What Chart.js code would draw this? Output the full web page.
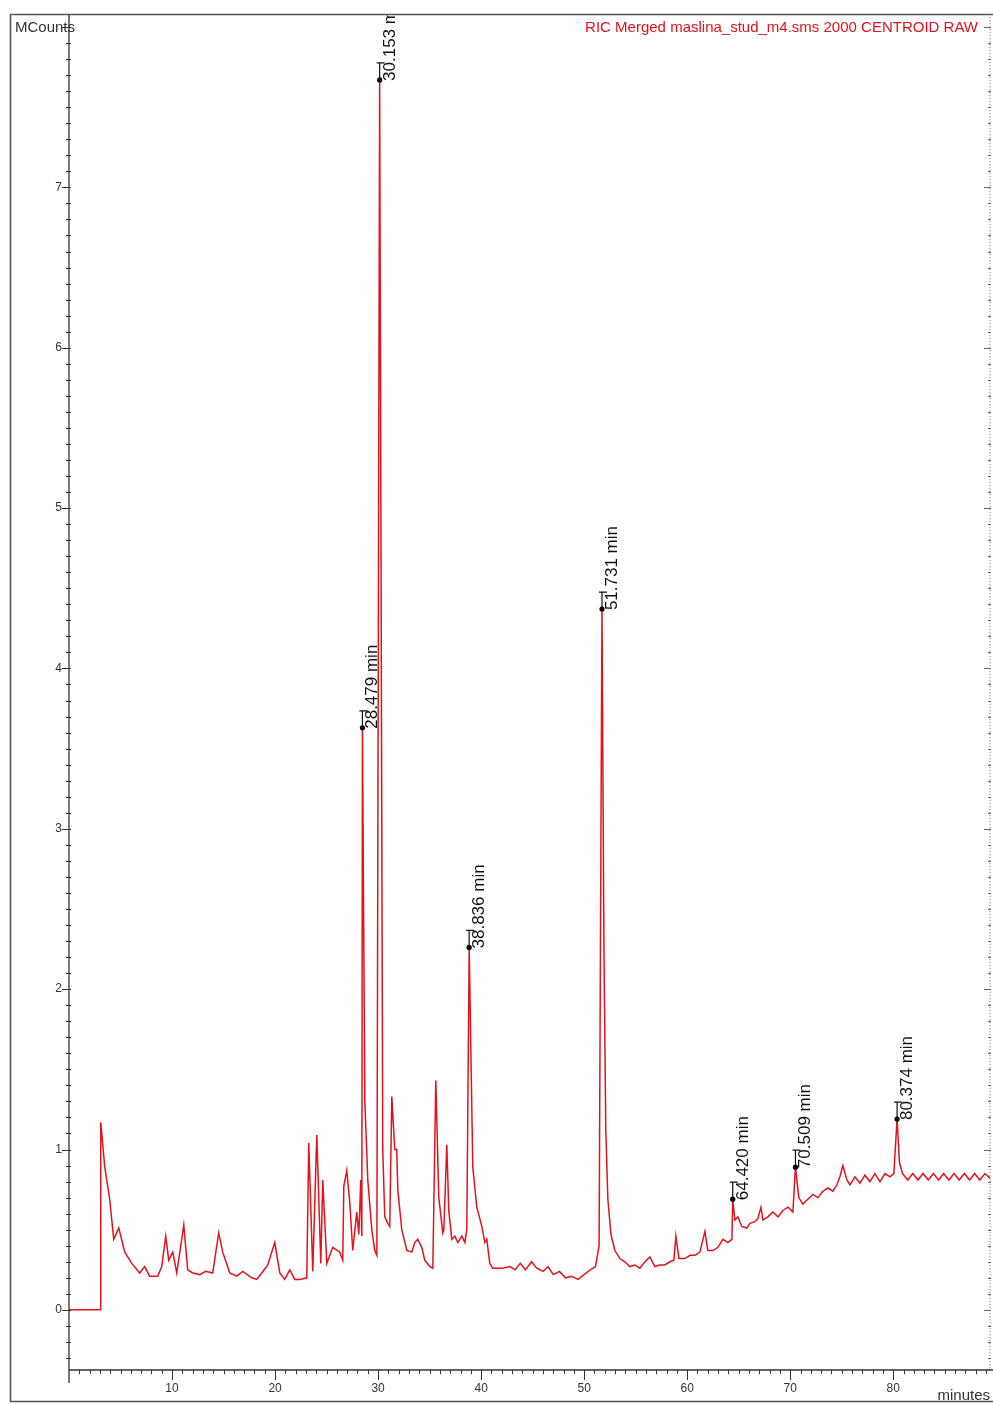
<!DOCTYPE html>
<html>
<head>
<meta charset="utf-8">
<script src="https://cdn.jsdelivr.net/npm/chart.js@4.4.1/dist/chart.umd.min.js"></script>
<style>
  html, body { margin: 0; padding: 0; background: #fff; }
  #wrap { width: 993px; height: 1405px; }
</style>
</head>
<body>
<div id="wrap"><canvas id="ric" width="993" height="1405"></canvas></div>
<script>
// retention time (minutes) and signal (MCounts)
const times = [
  0, 3.05, 3.08, 3.47, 3.95, 4.34, 4.83, 5.41, 6.09, 6.86,
  7.35, 7.83, 8.61, 9.0, 9.39, 9.68, 10.07, 10.46, 11.14, 11.52,
  12.01, 12.69, 13.27, 13.95, 14.53, 14.92, 15.6, 16.28, 16.86, 17.74,
  18.22, 18.71, 19.29, 19.97, 20.46, 20.94, 21.43, 21.91, 22.4, 23.08,
  23.27, 23.66, 24.05, 24.44, 24.63, 25.02, 25.6, 26.28, 26.57, 26.67,
  26.96, 27.25, 27.54, 27.93, 28.13, 28.32, 28.42, 28.48, 28.71, 29.0,
  29.39, 29.68, 29.88, 30.15, 30.45, 30.65, 30.94, 31.13, 31.33, 31.62,
  31.81, 31.91, 32.3, 32.79, 33.27, 33.56, 33.85, 34.24, 34.53, 35.02,
  35.31, 35.6, 35.89, 36.28, 36.38, 36.67, 36.86, 37.15, 37.45, 37.74,
  38.13, 38.42, 38.61, 38.84, 39.19, 39.58, 40.07, 40.36, 40.55, 40.84,
  41.13, 42.1, 42.79, 43.3, 43.8, 44.3, 44.9, 45.4, 46.0, 46.5,
  47.0, 47.6, 48.2, 48.8, 49.4, 50.0, 50.6, 51.1, 51.45, 51.73,
  51.92, 52.1, 52.3, 52.6, 52.98, 53.47, 53.95, 54.44, 54.92, 55.41,
  55.9, 56.38, 56.86, 57.35, 57.83, 58.32, 58.71, 58.9, 59.2, 59.78,
  60.27, 60.75, 61.23, 61.72, 62.0, 62.5, 62.98, 63.47, 63.95, 64.34,
  64.42, 64.63, 64.92, 65.3, 65.79, 66.09, 66.57, 66.86, 67.16, 67.35,
  67.83, 68.32, 68.81, 69.29, 69.78, 70.26, 70.51, 70.83, 71.22, 71.71,
  72.2, 72.68, 73.17, 73.66, 74.14, 74.53, 74.82, 75.11, 75.5, 75.8,
  76.28, 76.77, 77.25, 77.74, 78.22, 78.71, 79.2, 79.68, 80.06, 80.37,
  80.6, 80.9, 81.4, 81.9, 82.4, 82.9, 83.4, 83.9, 84.4, 84.9,
  85.4, 85.9, 86.4, 86.9, 87.4, 87.9, 88.4, 88.9, 89.4
];
const counts = [
  0, 0, 1.17, 0.89, 0.69, 0.44, 0.51, 0.36, 0.29, 0.23,
  0.27, 0.21, 0.21, 0.27, 0.46, 0.31, 0.36, 0.23, 0.53, 0.25,
  0.23, 0.22, 0.24, 0.23, 0.48, 0.36, 0.23, 0.21, 0.24, 0.2,
  0.19, 0.23, 0.28, 0.42, 0.23, 0.19, 0.25, 0.19, 0.19, 0.2,
  1.04, 0.24, 1.09, 0.29, 0.81, 0.29, 0.39, 0.36, 0.31, 0.77,
  0.87, 0.67, 0.37, 0.61, 0.47, 0.81, 0.46, 3.63, 1.31, 0.81,
  0.5, 0.37, 0.34, 7.67, 1.0, 0.58, 0.54, 0.52, 1.33, 1.0,
  1.0, 0.75, 0.5, 0.37, 0.36, 0.42, 0.44, 0.39, 0.31, 0.27,
  0.26, 1.43, 0.7, 0.48, 0.5, 1.03, 0.62, 0.44, 0.46, 0.42,
  0.46, 0.42, 0.5, 2.26, 0.89, 0.64, 0.52, 0.42, 0.44, 0.29,
  0.26, 0.26, 0.27, 0.25, 0.29, 0.25, 0.3, 0.26, 0.24, 0.27,
  0.22, 0.24, 0.2, 0.21, 0.19, 0.22, 0.25, 0.27, 0.4, 4.37,
  2.25, 1.12, 0.69, 0.47, 0.37, 0.32, 0.3, 0.27, 0.28, 0.26,
  0.3, 0.33, 0.27, 0.28, 0.28, 0.3, 0.31, 0.46, 0.32, 0.32,
  0.34, 0.34, 0.36, 0.49, 0.37, 0.37, 0.39, 0.44, 0.42, 0.44,
  0.69, 0.56, 0.58, 0.52, 0.51, 0.54, 0.55, 0.57, 0.64, 0.56,
  0.58, 0.61, 0.58, 0.62, 0.64, 0.61, 0.89, 0.7, 0.66, 0.69,
  0.72, 0.7, 0.74, 0.76, 0.74, 0.78, 0.83, 0.9, 0.81, 0.78,
  0.83, 0.79, 0.84, 0.8, 0.85, 0.8, 0.85, 0.83, 0.85, 1.19,
  0.92, 0.85, 0.81, 0.85, 0.81, 0.85, 0.81, 0.85, 0.81, 0.85,
  0.81, 0.85, 0.81, 0.85, 0.81, 0.85, 0.81, 0.85, 0.82
];

// labelled peaks
const peakTimes = [28.479, 30.153, 38.836, 51.731, 64.420, 70.509, 80.374];
const peakCounts = [3.63, 7.67, 2.26, 4.37, 0.69, 0.89, 1.19];
const peakLabels = ["28.479 min", "30.153 min", "38.836 min", "51.731 min", "64.420 min", "70.509 min", "80.374 min"];

// axis labels
const xTickLabels = [10, 20, 30, 40, 50, 60, 70, 80];
const yTickLabels = [0, 1, 2, 3, 4, 5, 6, 7];

const FONT = '"Liberation Sans", Arial, sans-serif';
const RED = "#e3121c";

const chromFrame = {
  id: "chromFrame",
  beforeDraw(chart) {
    const ctx = chart.ctx;
    ctx.save();
    ctx.fillStyle = "#fff";
    ctx.fillRect(0, 0, chart.width, chart.height);
    ctx.restore();
  },
  afterDraw(chart) {
    const { ctx, chartArea: a, scales } = chart;
    const x = scales.x, y = scales.y;
    ctx.save();

    // outer frame
    ctx.strokeStyle = "#555";
    ctx.lineWidth = 1.6;
    ctx.beginPath();
    ctx.moveTo(chart.width, 14.5);
    ctx.lineTo(10.5, 14.5);
    ctx.lineTo(10.5, 1401.5);
    ctx.lineTo(chart.width, 1401.5);
    ctx.stroke();

    // axis lines
    ctx.strokeStyle = "#333";
    ctx.lineWidth = 1.3;
    ctx.beginPath();
    ctx.moveTo(a.left, a.top);
    ctx.lineTo(a.left, a.bottom + 13);
    ctx.moveTo(a.left, a.bottom);
    ctx.lineTo(chart.width, a.bottom);
    ctx.stroke();

    // x ticks every minute
    ctx.lineWidth = 1;
    ctx.beginPath();
    for (let m = 1; m <= 89; m++) {
      const px = Math.round(x.getPixelForValue(m)) + 0.5;
      ctx.moveTo(px, a.bottom);
      ctx.lineTo(px, a.bottom + (m % 10 === 0 ? 10 : 4));
    }
    // y ticks every 0.1
    for (let k = -3; k <= 80; k++) {
      const py = Math.round(y.getPixelForValue(k / 10)) + 0.5;
      ctx.moveTo(a.left - (k % 10 === 0 ? 7 : 3), py);
      ctx.lineTo(a.left + 2, py);
    }
    ctx.stroke();

    // right dotted axis
    const rx = a.right;
    ctx.strokeStyle = "#666";
    ctx.setLineDash([1, 2]);
    ctx.beginPath();
    ctx.moveTo(rx, a.top);
    ctx.lineTo(rx, a.bottom);
    ctx.stroke();
    ctx.setLineDash([]);
    ctx.beginPath();
    for (let k = -3; k <= 80; k++) {
      const py = Math.round(y.getPixelForValue(k / 10)) + 0.5;
      ctx.moveTo(rx - (k % 10 === 0 ? 6 : 2), py);
      ctx.lineTo(rx + 1, py);
    }
    ctx.stroke();

    // texts
    ctx.fillStyle = "#333";
    ctx.font = "15px " + FONT;
    ctx.textBaseline = "alphabetic";
    ctx.textAlign = "left";
    ctx.fillText("MCounts", 15, 32);
    ctx.textAlign = "right";
    ctx.fillText("minutes", 990, 1400);
    ctx.fillStyle = RED;
    ctx.fillText("RIC Merged maslina_stud_m4.sms 2000 CENTROID RAW", 978, 32);

    // peak markers and labels
    ctx.beginPath();
    ctx.rect(0, a.top + 1, chart.width, a.bottom - a.top);
    ctx.clip();
    ctx.strokeStyle = "#111";
    ctx.fillStyle = "#111";
    ctx.lineWidth = 1.2;
    ctx.font = "17px " + FONT;
    ctx.textAlign = "left";
    peakTimes.forEach((t, i) => {
      const px = x.getPixelForValue(t);
      const py = y.getPixelForValue(peakCounts[i]);
      ctx.beginPath();
      ctx.moveTo(px, py);
      ctx.lineTo(px, py - 17);
      ctx.moveTo(px - 3, py - 17);
      ctx.lineTo(px + 5, py - 17);
      ctx.stroke();
      ctx.save();
      ctx.translate(px + 15, py + 1);
      ctx.rotate(-Math.PI / 2);
      ctx.fillText(peakLabels[i], 0, 0);
      ctx.restore();
    });
    ctx.restore();
  }
};

new Chart(document.getElementById("ric").getContext("2d"), {
  type: "line",
  data: {
    datasets: [
      {
        label: "peaks",
        data: peakTimes.map((t, i) => ({ x: t, y: peakCounts[i] })),
        showLine: false,
        pointRadius: 2.6,
        pointHoverRadius: 2.6,
        pointBackgroundColor: "#000",
        pointBorderWidth: 0,
      },
      {
        label: "RIC",
        data: times.map((t, i) => ({ x: t, y: counts[i] })),
        borderColor: RED,
        borderWidth: 1.5,
        pointRadius: 0,
        tension: 0,
        fill: false,
      },
    ],
  },
  options: {
    responsive: false,
    devicePixelRatio: 1,
    animation: false,
    layout: { autoPadding: false, padding: { left: 0, top: 14, right: 3, bottom: 0 } },
    plugins: { legend: { display: false }, tooltip: { enabled: false } },
    scales: {
      x: {
        type: "linear",
        min: 0,
        max: 89.39,
        grid: { display: false, drawTicks: false },
        border: { display: false },
        afterFit: (scale) => { scale.height = 35; },
        ticks: {
          stepSize: 10,
          includeBounds: false,
          autoSkip: false,
          maxRotation: 0,
          padding: 11,
          color: "#333",
          font: { size: 12, family: FONT },
          callback: (v) => (xTickLabels.includes(v) ? String(v) : ""),
        },
      },
      y: {
        min: -0.375,
        max: 8.08,
        grid: { display: false, drawTicks: false },
        border: { display: false },
        afterFit: (scale) => { scale.width = 69; },
        ticks: {
          stepSize: 1,
          includeBounds: false,
          autoSkip: false,
          padding: 7,
          color: "#333",
          font: { size: 12, family: FONT },
          callback: (v) => (yTickLabels.includes(v) ? String(v) : ""),
        },
      },
    },
  },
  plugins: [chromFrame],
});
</script>
</body>
</html>
